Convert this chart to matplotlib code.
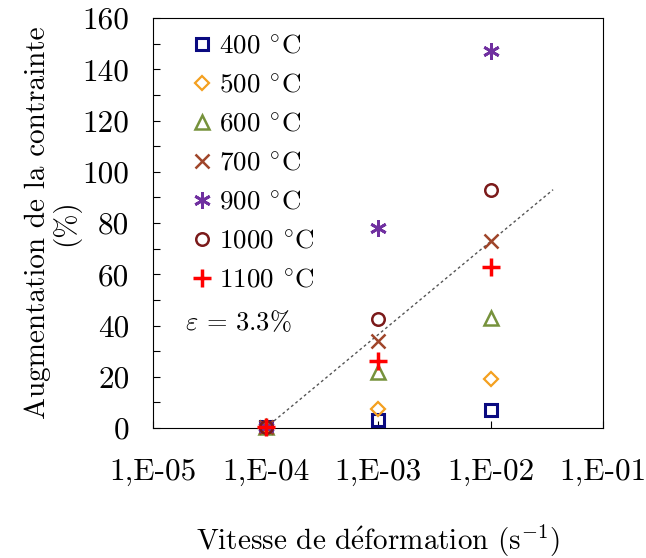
import matplotlib
matplotlib.use('Agg')
import matplotlib.pyplot as plt
from matplotlib.ticker import MultipleLocator, LogLocator, NullFormatter, FixedLocator, FixedFormatter

plt.rcParams['font.family'] = ['cmr10', 'DejaVu Serif']
plt.rcParams['mathtext.fontset'] = 'cm'
plt.rcParams['axes.unicode_minus'] = False

# strain rates (s-1) and stress increase (%) per temperature
rates = [1e-4, 1e-3, 1e-2]
t400 = [0.5, 3, 7]
t500 = [0.5, 7.5, 19]
t600 = [0.5, 22, 43]
t700 = [0.5, 34, 73]
t900 = [0.5, 78, 147]
t1000 = [0.5, 42.5, 93]
t1100 = [0.5, 26, 63]

# trend line end points
trend_x = [1e-4, 3.6e-2]
trend_y = [0, 93]

x_ticks = [1e-5, 1e-4, 1e-3, 1e-2, 1e-1]
x_labels = ['1,E-05', '1,E-04', '1,E-03', '1,E-02', '1,E-01']

series = [
    (t400, r'400 $^{\circ}\mathrm{C}$', dict(marker='s', color='#0A0A80', ms=8, mew=2.2)),
    (t500, r'500 $^{\circ}\mathrm{C}$', dict(marker='D', color='#F4A020', ms=7.5, mew=1.6)),
    (t600, r'600 $^{\circ}\mathrm{C}$', dict(marker='^', color='#76923C', ms=10, mew=1.8)),
    (t700, r'700 $^{\circ}\mathrm{C}$', dict(marker='x', color='#A0452A', ms=10, mew=1.8)),
    (t900, r'900 $^{\circ}\mathrm{C}$', dict(marker=(6, 2, 0), color='#7030A0', ms=12, mew=2.0)),
    (t1000, r'1000 $^{\circ}\mathrm{C}$', dict(marker='o', color='#7B1A1A', ms=9, mew=1.8)),
    (t1100, r'1100 $^{\circ}\mathrm{C}$', dict(marker='+', color='#FF0000', ms=13, mew=2.5)),
]

fig = plt.figure(figsize=(6.46, 5.58), dpi=100)
ax = fig.add_axes([153 / 646, 130 / 558, 450 / 646, 410 / 558])

for vals, label, st in series:
    ax.plot(rates, vals, linestyle='none', mfc='none', mec=st['color'],
            marker=st['marker'], ms=st['ms'], mew=st['mew'], label=label,
            clip_on=False, zorder=3)

ax.plot(trend_x, trend_y, linestyle=(0, (2, 2)), color='#555555', lw=1.0, zorder=2)

ax.set_xscale('log')
ax.set_xlim(1e-5, 1e-1)
ax.set_ylim(0, 160)

ax.xaxis.set_major_locator(FixedLocator(x_ticks))
ax.xaxis.set_major_formatter(FixedFormatter(x_labels))
ax.xaxis.set_minor_locator(LogLocator(base=10, subs=range(2, 10)))
ax.xaxis.set_minor_formatter(NullFormatter())
ax.yaxis.set_major_locator(MultipleLocator(20))
ax.yaxis.set_minor_locator(MultipleLocator(10))

ax.tick_params(axis='both', which='both', direction='in', length=5, width=0.8,
               top=False, right=False, labelsize=22.5)
ax.tick_params(axis='x', which='major', pad=22)
ax.tick_params(axis='y', which='major', pad=17)
for sp in ax.spines.values():
    sp.set_linewidth(0.8)

ax.set_xlabel(r'Vitesse de d$\acute{\mathrm{e}}$formation (s$^{\mathrm{-1}}$)', fontsize=21)
ax.xaxis.set_label_coords(0.5, -0.232)
ax.set_ylabel('Augmentation de la contrainte\n(%)', fontsize=21, linespacing=1.0)
ax.yaxis.set_label_coords(-0.162, 0.5)

ax.legend(loc='upper left', bbox_to_anchor=(0.06, 0.985), frameon=False,
          fontsize=19.5, handlelength=0.8, handletextpad=0.25, labelspacing=0.55,
          borderaxespad=0, numpoints=1)

ax.text(0.071, 0.259, r'$\varepsilon$ = 3.3%', transform=ax.transAxes,
        fontsize=19, va='center', ha='left')

fig.savefig('out.png', dpi=100)
